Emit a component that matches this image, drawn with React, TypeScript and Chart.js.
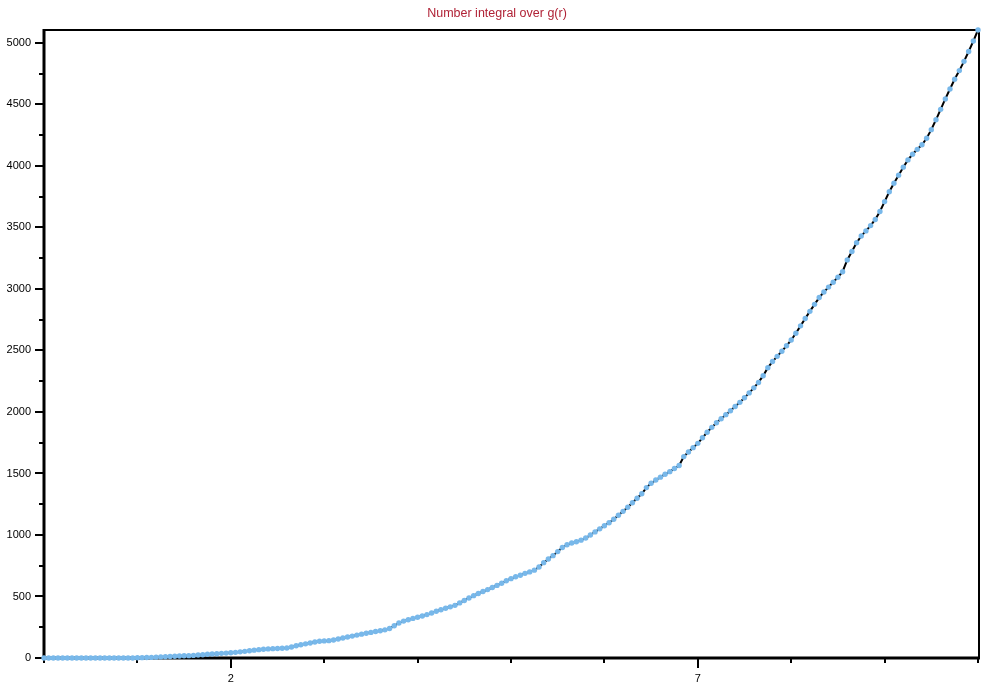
import React, { useEffect, useRef } from 'react';
import { Chart, registerables } from 'chart.js';

Chart.register(...registerables);

const TITLE = 'Number integral over g(r)';
const TITLE_COLOR = '#b02236';
const POINT_COLOR = '#78b8ea';

// r sampling grid
const R_START = 0;
const R_STEP = 0.05;

// Number integral values, one per r sample (r = 0.00 ... 10.00)
const N_VALUES: number[] = [
  // 0.00 - 0.95
  0, 0, 0, 0, 0, 0, 0, 0, 0, 0, 0, 0, 0, 0, 0, 0, 0, 0, 0, 0,
  // 1.00 - 1.95
  2, 3, 4, 5, 7, 9, 10, 12, 14, 16, 18, 19, 21, 24, 27, 30, 32, 35, 38, 40,
  // 2.00 - 2.95
  43, 46, 50, 54, 59, 64, 68, 71, 74, 76, 77, 79, 81, 90, 100, 108, 115, 122, 130, 136,
  // 3.00 - 3.95
  139, 141, 146, 155, 163, 171, 178, 186, 194, 201, 208, 215, 222, 229, 240, 262, 285, 300, 311, 322,
  // 4.00 - 4.95
  331, 341, 353, 366, 380, 392, 404, 416, 428, 448, 468, 488, 507, 524, 540, 556, 573, 590, 608, 628,
  // 5.00 - 5.95
  645, 660, 673, 688, 700, 714, 740, 775, 805, 832, 865, 898, 920, 935, 945, 958, 975, 1000, 1025, 1050,
  // 6.00 - 6.95
  1075, 1100, 1128, 1160, 1192, 1225, 1262, 1298, 1335, 1385, 1420, 1447, 1470, 1494, 1515, 1540, 1565, 1637, 1675, 1710,
  // 7.00 - 7.95
  1745, 1790, 1835, 1875, 1912, 1945, 1978, 2010, 2045, 2078, 2115, 2155, 2196, 2240, 2295, 2360, 2410, 2452, 2494, 2538,
  // 8.00 - 8.95
  2585, 2640, 2700, 2760, 2818, 2875, 2930, 2975, 3015, 3055, 3095, 3140, 3236, 3305, 3375, 3430, 3472, 3515, 3565, 3630,
  // 9.00 - 9.95
  3710, 3790, 3859, 3925, 3990, 4049, 4095, 4135, 4172, 4225, 4295, 4375, 4460, 4545, 4625, 4705, 4775, 4850, 4930, 5015,
  // 10.00
  5105,
];

const X_MIN = 0;
const X_MAX = 10;
const X_TICKS = [0, 1, 2, 3, 4, 5, 6, 7, 8, 9, 10];
const X_LABELS = [2, 7];

const Y_MIN = 0;
const Y_MAX = 5105;
const Y_TICKS = [0, 250, 500, 750, 1000, 1250, 1500, 1750, 2000, 2250, 2500, 2750, 3000, 3250, 3500, 3750, 4000, 4250, 4500, 4750, 5000];
const Y_LABELS = [0, 500, 1000, 1500, 2000, 2500, 3000, 3500, 4000, 4500, 5000];

const FONT = 'Liberation Sans, Arial, sans-serif';

const framePlugin = {
  id: 'frame',
  beforeDatasetsDraw(chart: any) {
    const { ctx, chartArea } = chart;
    const { left, right, top, bottom } = chartArea;
    const xs = chart.scales.x;
    const ys = chart.scales.y;
    ctx.save();
    ctx.strokeStyle = '#000';
    ctx.lineCap = 'butt';

    ctx.lineWidth = 2;
    for (const v of X_TICKS) {
      const px = Math.round(xs.getPixelForValue(v));
      const major = X_LABELS.includes(v);
      ctx.beginPath();
      ctx.moveTo(px, bottom + 1);
      ctx.lineTo(px, bottom + 1 + (major ? 9 : 4));
      ctx.stroke();
    }
    for (const v of Y_TICKS) {
      const py = Math.round(ys.getPixelForValue(v));
      const major = Y_LABELS.includes(v);
      ctx.beginPath();
      ctx.moveTo(left - 1, py);
      ctx.lineTo(left - 1 - (major ? 8 : 4), py);
      ctx.stroke();
    }

    ctx.lineWidth = 2;
    ctx.beginPath();
    ctx.moveTo(left, top);
    ctx.lineTo(right + 1, top);
    ctx.moveTo(right + 1, top);
    ctx.lineTo(right + 1, bottom);
    ctx.stroke();
    ctx.lineWidth = 3;
    ctx.beginPath();
    ctx.moveTo(left, top - 1);
    ctx.lineTo(left, bottom + 1.5);
    ctx.moveTo(left - 1.5, bottom);
    ctx.lineTo(right + 2, bottom);
    ctx.stroke();
    ctx.restore();
  },
  afterDraw(chart: any) {
    const { ctx } = chart;
    ctx.save();
    ctx.fillStyle = TITLE_COLOR;
    ctx.font = `normal 12.5px ${FONT}`;
    ctx.textAlign = 'center';
    ctx.textBaseline = 'middle';
    ctx.fillText(TITLE, 497, 14);
    ctx.restore();
  },
};

export default function App() {
  const ref = useRef<HTMLCanvasElement>(null);

  useEffect(() => {
    document.body.style.margin = '0';
    const canvas = ref.current;
    if (!canvas) return;
    const points = N_VALUES.map((n, i) => ({ x: +(R_START + i * R_STEP).toFixed(2), y: n }));
    const chart = new Chart(canvas, {
      type: 'line',
      data: {
        datasets: [
          {
            data: points,
            borderColor: '#000',
            borderWidth: 2,
            pointRadius: 2.7,
            pointHoverRadius: 2.7,
            pointBackgroundColor: POINT_COLOR,
            pointBorderColor: POINT_COLOR,
            pointBorderWidth: 0,
            tension: 0,
            clip: false as any,
          },
        ],
      },
      options: {
        animation: false,
        responsive: false,
        devicePixelRatio: 1,
        events: [],
        layout: { padding: { left: 0, right: 10, top: 30, bottom: 0 } },
        plugins: {
          legend: { display: false },
          tooltip: { enabled: false },
          title: { display: false },
        },
        scales: {
          x: {
            type: 'linear',
            min: X_MIN,
            max: X_MAX,
            grid: { display: false, drawTicks: false },
            border: { display: false },
            afterBuildTicks: (s: any) => {
              s.ticks = X_TICKS.map((v) => ({ value: v }));
            },
            ticks: {
              autoSkip: false,
              maxRotation: 0,
              padding: 14,
              color: '#000',
              font: { family: FONT, size: 11 },
              callback: (v: any) => (X_LABELS.includes(Number(v)) ? String(v) : ''),
            },
            afterFit: (s: any) => {
              s.height = 29;
              s.paddingLeft = 0;
              s.paddingRight = 0;
            },
          },
          y: {
            type: 'linear',
            min: Y_MIN,
            max: Y_MAX,
            grid: { display: false, drawTicks: false },
            border: { display: false },
            afterBuildTicks: (s: any) => {
              s.ticks = Y_TICKS.map((v) => ({ value: v }));
            },
            ticks: {
              autoSkip: false,
              padding: 13,
              color: '#000',
              font: { family: FONT, size: 11 },
              callback: (v: any) => (Y_LABELS.includes(Number(v)) ? String(v) : ''),
            },
            afterFit: (s: any) => {
              s.width = 44;
              s.paddingTop = 0;
              s.paddingBottom = 0;
            },
          },
        },
      },
      plugins: [framePlugin],
    });
    return () => chart.destroy();
  }, []);

  return <canvas ref={ref} width={988} height={687} style={{ display: 'block' }} />;
}
